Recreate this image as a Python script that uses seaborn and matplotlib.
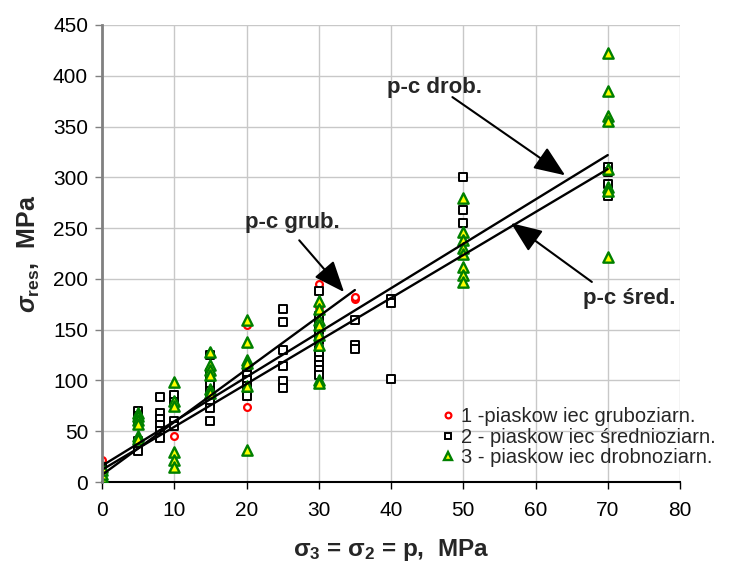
import matplotlib
matplotlib.use("Agg")
import matplotlib.pyplot as plt
import seaborn as sns
import numpy as np
import pandas as pd

# ---- data ----
series_names = ["1 -piaskow iec gruboziarn.",
                "2 - piaskow iec średnioziarn.",
                "3 - piaskow iec drobnoziarn."]

x1 = [0, 10, 20, 20, 30, 30, 35, 35]
y1 = [22, 45, 74, 155, 195, 172, 180, 182]

x2 = [0, 0, 0,
      5, 5, 5, 5, 5, 5,
      8, 8, 8, 8, 8, 8,
      10, 10, 10, 10,
      15, 15, 15, 15, 15, 15, 15, 15, 15,
      20, 20, 20, 20, 20, 20,
      25, 25, 25, 25, 25, 25,
      30, 30, 30, 30, 30, 30, 30, 30, 30, 30, 30,
      35, 35, 35,
      40, 40, 40,
      50, 50, 50,
      70, 70, 70, 70]
y2 = [5, 10, 15,
      70, 65, 60, 40, 35, 31,
      84, 68, 62, 56, 50, 43,
      86, 79, 60, 55,
      125, 107, 100, 96, 90, 84, 79, 73, 60,
      110, 105, 100, 95, 90, 85,
      170, 158, 130, 114, 99, 93,
      188, 163, 155, 150, 140, 130, 125, 120, 115, 110, 105,
      160, 135, 131,
      180, 176, 101,
      300, 268, 255,
      310, 305, 293, 282]

x3 = [0, 0, 0, 0, 0,
      5, 5, 5, 5, 5, 5,
      10, 10, 10, 10, 10, 10,
      15, 15, 15, 15, 15, 15,
      20, 20, 20, 20, 20, 20,
      30, 30, 30, 30, 30, 30, 30, 30,
      50, 50, 50, 50, 50, 50, 50, 50,
      70, 70, 70, 70, 70, 70, 70, 70]
y3 = [2, 5, 8, 12, 15,
      68, 65, 61, 57, 45, 42,
      98, 80, 75, 30, 22, 15,
      128, 115, 110, 105, 92, 88,
      160, 138, 120, 117, 95, 32,
      178, 170, 160, 155, 145, 135, 100, 97,
      280, 246, 238, 230, 225, 212, 204, 197,
      422, 385, 360, 355, 308, 290, 287, 222]

# trend lines (p-c grub., p-c drob., p-c śred.)
trend_labels = ["p-c grub.", "p-c drob.", "p-c śred."]
trend_intercepts = [7, 16, 12]
trend_slopes = [5.2, 4.37, 4.23]
trend_xmax = [35, 70, 70]

x_ticks = [0, 10, 20, 30, 40, 50, 60, 70, 80]
y_ticks = [0, 50, 100, 150, 200, 250, 300, 350, 400, 450]

# ---- plotting ----
sns.set_theme(style="white")
plt.rcParams['font.family'] = ['Liberation Sans', 'DejaVu Sans']
plt.rcParams['mathtext.fontset'] = 'custom'
plt.rcParams['mathtext.rm'] = 'Liberation Sans:bold'
plt.rcParams['mathtext.bf'] = 'Liberation Sans:bold'
plt.rcParams['mathtext.it'] = 'Liberation Sans:italic'
plt.rcParams['mathtext.bfit'] = 'Liberation Sans:italic:bold'

fig = plt.figure(figsize=(7.38, 5.68), dpi=100)
ax = fig.add_axes([102/738, 1-482/568, (680-102)/738, (482-25)/568])

df = pd.concat([
    pd.DataFrame({"x": x1, "y": y1, "s": series_names[0]}),
    pd.DataFrame({"x": x2, "y": y2, "s": series_names[1]}),
    pd.DataFrame({"x": x3, "y": y3, "s": series_names[2]}),
], ignore_index=True)

styles = [
    dict(marker="o", s=24, facecolor="white", edgecolor="#ff0000", linewidth=1.6),
    dict(marker="s", s=28, facecolor="white", edgecolor="black", linewidth=1.4),
    dict(marker="^", s=55, facecolor="#ffff00", edgecolor="#008000", linewidth=1.7),
]
handles = []
for name, st in zip(series_names, styles):
    sub = df[df["s"] == name]
    sns.scatterplot(data=sub, x="x", y="y", ax=ax, zorder=3, legend=False, **st)
    handles.append(plt.Line2D([], [], linestyle="none", marker=st["marker"],
                              markersize=np.sqrt(st["s"]) * 0.85,
                              markerfacecolor=st["facecolor"],
                              markeredgecolor=st["edgecolor"],
                              markeredgewidth=st["linewidth"]))

for b, m, xm in zip(trend_intercepts, trend_slopes, trend_xmax):
    xs = np.array([0, xm])
    ax.plot(xs, b + m * xs, color="black", lw=1.7, zorder=4)

ax.set_xlim(0, 80)
ax.set_ylim(0, 450)
ax.set_xticks(x_ticks)
ax.set_yticks(y_ticks)
ax.tick_params(axis="both", labelsize=15, colors="black", length=5, width=1,
               direction="out", left=True, bottom=True)
ax.tick_params(axis="x", pad=9)
ax.tick_params(axis="y", colors="#808080", labelcolor="black", pad=5)
ax.grid(True, color="#c8c8c8", lw=1)
ax.set_axisbelow(True)
for sp in ["top", "right"]:
    ax.spines[sp].set_visible(False)
ax.spines["left"].set_color("#808080")
ax.spines["left"].set_linewidth(2)
ax.spines["bottom"].set_color("black")
ax.spines["bottom"].set_linewidth(1.5)
ax.spines["left"].set_zorder(5)

ax.set_xlabel(r"$\mathrm{\sigma_3}$ = $\mathrm{\sigma_2}$ = p,  MPa", fontsize=17.5,
              fontweight="bold", labelpad=12)
ax.set_ylabel(r"$\mathbfit{\sigma}_{\mathbf{res}}$,  MPa", fontsize=18,
              fontweight="bold", labelpad=8)

arrowprops = dict(arrowstyle="-|>,head_length=1.6,head_width=0.65", color="black", lw=1.5,
                  shrinkA=0, shrinkB=0)
ax.annotate("", xy=(64.1, 302), xytext=(48.5, 379), arrowprops=arrowprops, zorder=6)
ax.text(39.5, 388, trend_labels[1], fontsize=16, fontweight="bold", ha="left", va="center")
ax.annotate("", xy=(33.5, 187), xytext=(27.3, 238), arrowprops=arrowprops, zorder=6)
ax.text(19.8, 256, trend_labels[0], fontsize=16, fontweight="bold", ha="left", va="center")
ax.annotate("", xy=(56.6, 255), xytext=(67.8, 197), arrowprops=arrowprops, zorder=6)
ax.text(66.6, 181, trend_labels[2], fontsize=16, fontweight="bold", ha="left", va="center")

fig.legend(handles, series_names, loc="upper left",
           bbox_to_anchor=(428/738, 1-397/568), frameon=False, fontsize=14.5,
           handletextpad=0.15, labelspacing=0.08, handlelength=1.0, borderpad=0)

fig.savefig("out.png", dpi=100)
